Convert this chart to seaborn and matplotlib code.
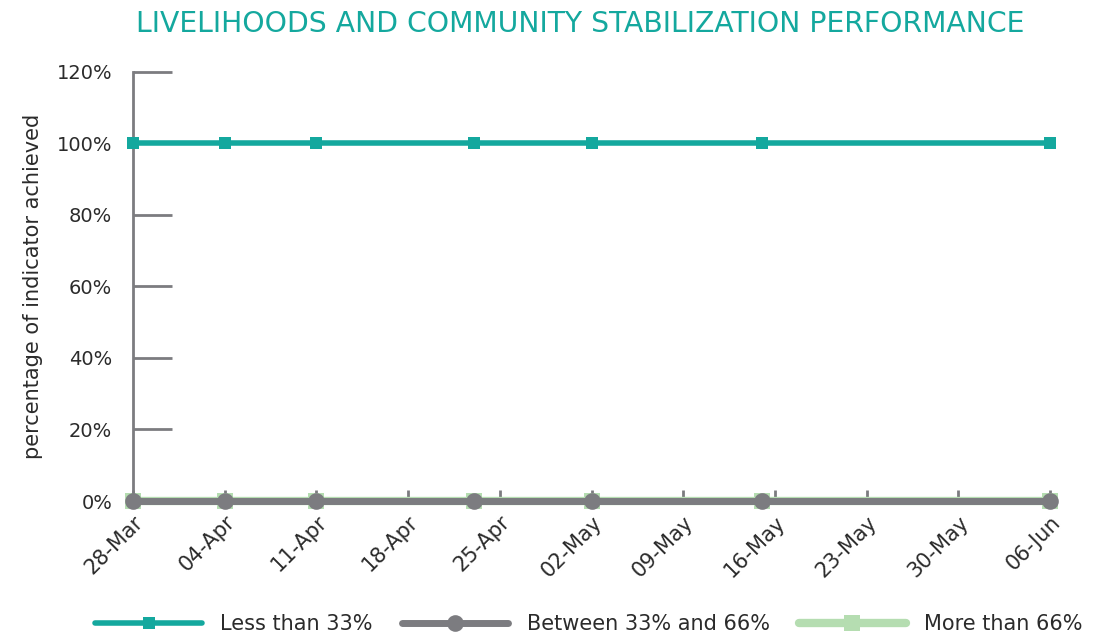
import pandas as pd
import matplotlib
matplotlib.use("Agg")
import matplotlib.pyplot as plt
import matplotlib.dates as mdates
from matplotlib.ticker import FuncFormatter
import seaborn as sns

# data
dates = ["2019-03-28", "2019-04-04", "2019-04-11", "2019-04-23",
         "2019-05-02", "2019-05-15", "2019-06-06"]
less_33 = [100, 100, 100, 100, 100, 100, 100]
between_33_66 = [0, 0, 0, 0, 0, 0, 0]
more_66 = [0, 0, 0, 0, 0, 0, 0]
tick_dates = pd.date_range("2019-03-28", "2019-06-06", freq="7D")
y_ticks = [0, 20, 40, 60, 80, 100, 120]

df = pd.DataFrame({"date": pd.to_datetime(dates),
                   "Less than 33%": less_33,
                   "Between 33% and 66%": between_33_66,
                   "More than 66%": more_66})

TEAL = "#14a89e"
GRAY = "#7c7c80"
GREEN = "#b5ddb1"
TXT = "#2b2b2b"

sns.set_style("white")
plt.rcParams['font.family'] = ['DejaVu Sans']

fig = plt.figure(figsize=(10.95, 6.37), dpi=100)
ax = fig.add_axes([0.1215, 0.2135, 0.8374, 0.6735])

sns.lineplot(data=df, x="date", y="More than 66%", ax=ax, color=GREEN,
             linewidth=6, marker="s", markersize=11, markeredgewidth=0,
             label="More than 66%", clip_on=False, zorder=2)
sns.lineplot(data=df, x="date", y="Between 33% and 66%", ax=ax, color=GRAY,
             linewidth=5, marker="o", markersize=12, markeredgewidth=0,
             label="Between 33% and 66%", clip_on=False, zorder=3)
sns.lineplot(data=df, x="date", y="Less than 33%", ax=ax, color=TEAL,
             linewidth=4, marker="s", markersize=9, markeredgewidth=0,
             label="Less than 33%", clip_on=False, zorder=4)

ax.set_xlim(tick_dates[0], tick_dates[-1])
ax.set_ylim(0, 120)
ax.set_yticks(y_ticks)
ax.yaxis.set_major_formatter(FuncFormatter(lambda v, p: f"{int(v)}%"))
ax.set_xticks(tick_dates)
ax.xaxis.set_major_formatter(mdates.DateFormatter("%d-%b"))

for s in ["top", "right"]:
    ax.spines[s].set_visible(False)
for s in ["left", "bottom"]:
    ax.spines[s].set_color(GRAY)
    ax.spines[s].set_linewidth(2)

ax.tick_params(axis="y", direction="in", length=28, width=2, color=GRAY,
               labelsize=14, labelcolor=TXT, pad=15, left=True)
ax.tick_params(axis="x", direction="in", length=8, width=2, color=GRAY,
               labelsize=15, labelcolor=TXT, pad=8, bottom=True)
plt.setp(ax.get_xticklabels(), rotation=45, ha="right", rotation_mode="anchor")

ax.set_xlabel("")
ax.set_ylabel("percentage of indicator achieved", fontsize=15, color=TXT, labelpad=10)

fig.suptitle("LIVELIHOODS AND COMMUNITY STABILIZATION PERFORMANCE",
             x=0.53, y=0.985, fontsize=20.3, color=TEAL)

handles, labels = ax.get_legend_handles_labels()
order = [2, 1, 0]
ax.get_legend().remove()
fig.legend([handles[i] for i in order], [labels[i] for i in order],
           loc="lower center", bbox_to_anchor=(0.538, -0.025), ncol=3,
           frameon=False, fontsize=15, handlelength=5.1, handletextpad=0.9,
           columnspacing=1.4, labelcolor=TXT)

fig.savefig("out.png", dpi=100)
